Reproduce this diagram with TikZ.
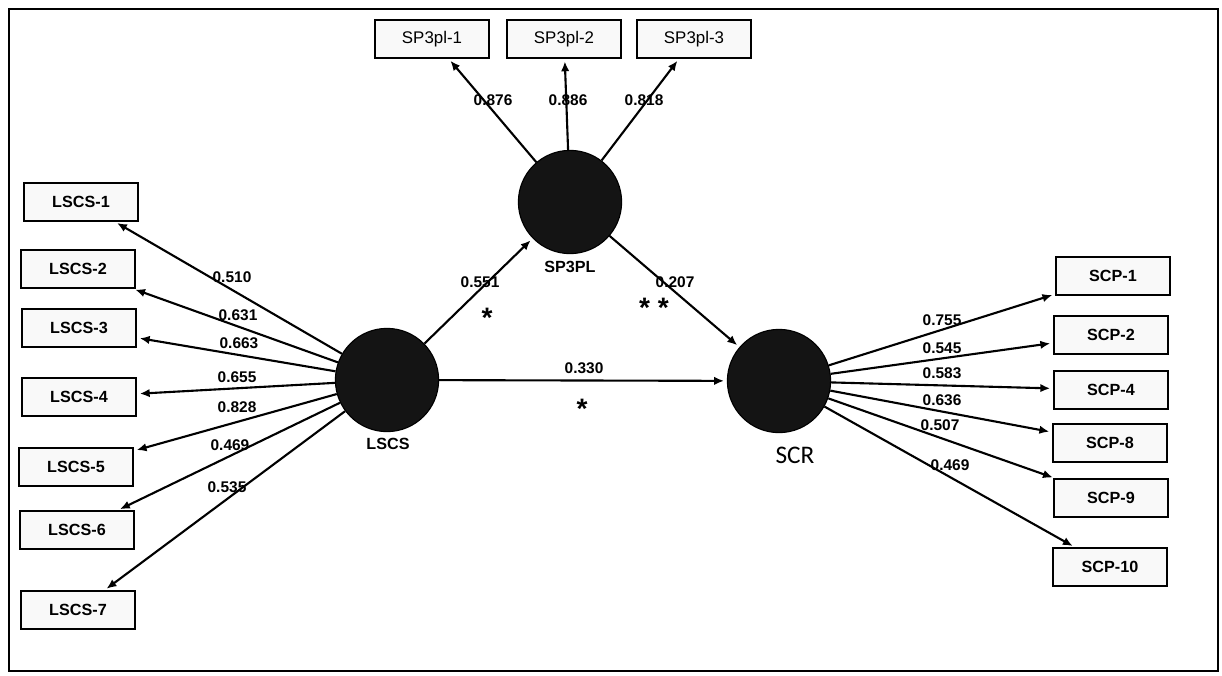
\documentclass[tikz,border=0pt]{standalone}
\usepackage{fontspec}
\setmainfont{Liberation Sans}
\newfontfamily\scrfont{Carlito}
\usetikzlibrary{arrows.meta}

\begin{document}
\begin{tikzpicture}[x=0.025cm, y=-0.025cm, >={Latex[length=7pt,width=6pt]},
  ind/.style={draw, line width=1.4pt, fill=gray!5, minimum width=2.85cm, minimum height=0.93cm, inner sep=1pt, font=\fontsize{11.5}{13}\selectfont\bfseries},
  indtop/.style={ind, font=\fontsize{12}{14}\selectfont},
  lat/.style={circle, draw, line width=0.8pt, fill=black!92, minimum size=2.58cm, inner sep=0pt},
  latname/.style={inner sep=1pt, font=\fontsize{11.5}{13}\selectfont\bfseries},
  ld/.style={inner sep=1pt, font=\fontsize{11}{12}\selectfont\bfseries},
  sig/.style={inner sep=0pt, font=\fontsize{20}{20}\selectfont\bfseries},
  lnk/.style={->, line width=1.5pt, shorten >=2pt}]
\useasboundingbox (0,0) rectangle (1222,676);
\draw[line width=1.2pt] (9,9) rectangle (1218,671);

% latent variables
\node[lat] (sp3pl) at (570,202) {};
\node[lat] (lscs) at (387,380) {};
\node[lat] (scr) at (779,381) {};
\node[latname] (sp3plname) at (570,267) {SP3PL};
\node[latname] (lscsname) at (388,444) {LSCS};
\node[inner sep=1pt, font=\scrfont\fontsize{18}{20}\selectfont] (scrname) at (795,455) {SCR};

% indicators of SP3PL
\node[indtop] (sp1) at (432,39) {SP3pl-1};
\node[indtop] (sp2) at (564,39) {SP3pl-2};
\node[indtop] (sp3) at (694,39) {SP3pl-3};

% indicators of LSCS
\node[ind] (lscs1) at (81,202) {LSCS-1};
\node[ind] (lscs2) at (78,269) {LSCS-2};
\node[ind] (lscs3) at (79,328) {LSCS-3};
\node[ind] (lscs4) at (79,397) {LSCS-4};
\node[ind] (lscs5) at (76,467) {LSCS-5};
\node[ind] (lscs6) at (77,530) {LSCS-6};
\node[ind] (lscs7) at (78,610) {LSCS-7};

% indicators of SCR
\node[ind] (scp1) at (1113,276) {SCP-1};
\node[ind] (scp2) at (1111,335) {SCP-2};
\node[ind] (scp4) at (1111,390) {SCP-4};
\node[ind] (scp8) at (1110,443) {SCP-8};
\node[ind] (scp9) at (1111,498) {SCP-9};
\node[ind] (scp10) at (1110,567) {SCP-10};

% outer loadings
\draw[lnk] (sp3pl) -- (sp1);
\draw[lnk] (sp3pl) -- (sp2);
\draw[lnk] (sp3pl) -- (sp3);
\draw[lnk] (lscs) -- (lscs1);
\draw[lnk] (lscs) -- (lscs2);
\draw[lnk] (lscs) -- (lscs3);
\draw[lnk] (lscs) -- (lscs4);
\draw[lnk] (lscs) -- (lscs5);
\draw[lnk] (lscs) -- (lscs6);
\draw[lnk] (lscs) -- (lscs7);
\draw[lnk] (scr) -- (scp1);
\draw[lnk] (scr) -- (scp2);
\draw[lnk] (scr) -- (scp4);
\draw[lnk] (scr) -- (scp8);
\draw[lnk] (scr) -- (scp9);
\draw[lnk] (scr) -- (scp10);

% structural paths
\draw[lnk] (lscs) -- (sp3pl);
\draw[lnk] (sp3pl) -- (scr);
\draw[lnk] (lscs) -- (scr);

% loading values
\node[ld] (v1) at (493,100) {0.876};
\node[ld] (v2) at (568,100) {0.886};
\node[ld] (v3) at (644,100) {0.818};
\node[ld] (w1) at (232,277) {0.510};
\node[ld] (w2) at (238,315) {0.631};
\node[ld] (w3) at (239,343) {0.663};
\node[ld] (w4) at (237,377) {0.655};
\node[ld] (w5) at (237,407) {0.828};
\node[ld] (w6) at (230,445) {0.469};
\node[ld] (w7) at (227,487) {0.535};
\node[ld] (u1) at (942,320) {0.755};
\node[ld] (u2) at (942,348) {0.545};
\node[ld] (u3) at (942,373) {0.583};
\node[ld] (u4) at (942,400) {0.636};
\node[ld] (u5) at (940,425) {0.507};
\node[ld] (u6) at (950,465) {0.469};

% path coefficients and significance
\node[ld] (b1) at (480,282) {0.551};
\node[ld] (b2) at (675,282) {0.207};
\node[ld] (b3) at (584,368) {0.330};
\node[sig] (s1) at (487,318) {*};
\node[sig] (s2) at (654,308) {* *};
\node[sig] (s3) at (582,409) {*};
\end{tikzpicture}
\end{document}
